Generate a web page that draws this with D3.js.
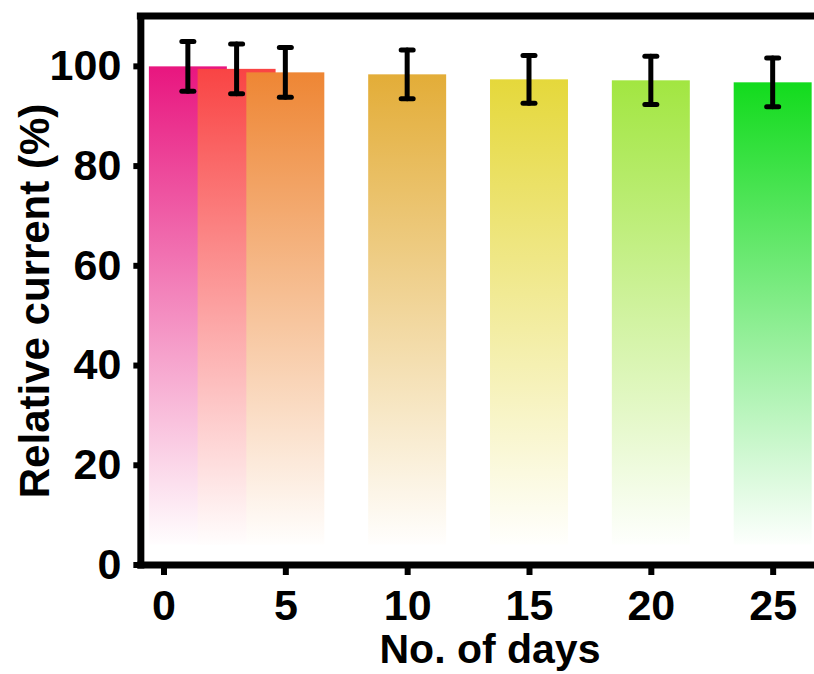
<!DOCTYPE html>
<html>
<head>
<meta charset="utf-8">
<script src="https://cdn.jsdelivr.net/npm/d3@7"></script>
<style>
	body { margin: 0; background: #fff; }
	text { font-family: Arial, "Liberation Sans", sans-serif; font-weight: bold; fill: #000; }
</style>
</head>
<body>
<svg id="chart"></svg>
<script>
// values
const days = [1, 3, 5, 10, 15, 20, 25];
const relCurrent = [99.9, 99.4, 98.7, 98.3, 97.3, 97.1, 96.7];
const errors = [5.0, 5.0, 5.0, 4.9, 4.8, 4.85, 4.9];
const barColors = ['#e8167f', '#f94444', '#ee8634', '#e3ad38', '#e5d83b', '#a2e641', '#12db1d'];
const xTicks = [0, 5, 10, 15, 20, 25];
const yTicks = [0, 20, 40, 60, 80, 100];

ChartScript = (function() {
	const W = 814, H = 674;
	const BAR_DAYS = 3.2;	// bar width in day units
	const BAR_BASE = 4;	// gradient fades out just above zero

	this.draw = function() {
		const svg = d3.select('#chart')
			.attr('width', W)
			.attr('height', H)
			.style('background-color', 'white');

		var x = d3.scaleLinear().domain([-0.95, 27]).range([140.35, 821.4]);
		var y = d3.scaleLinear().domain([0, 110]).range([564.5, 16]);

		// one vertical fade per bar, opaque so overlapping bars hide each other
		var defs = svg.append('defs');
		barColors.forEach((c, i) => {
			var g = defs.append('linearGradient')
				.attr('id', 'fade' + i)
				.attr('x1', 0).attr('y1', 0).attr('x2', 0).attr('y2', 1);
			g.append('stop').attr('offset', '0%').attr('stop-color', c);
			g.append('stop').attr('offset', '100%').attr('stop-color', d3.interpolateRgb(c, '#fff')(0.99));
		});

		var data = days.map((d, i) => ({ day: d, v: relCurrent[i], e: errors[i], i: i }));

		svg.append('g').selectAll('rect')
			.data(data)
			.join('rect')
			.attr('x', d => x(d.day - BAR_DAYS / 2))
			.attr('width', x(BAR_DAYS) - x(0))
			.attr('y', d => y(d.v))
			.attr('height', d => y(BAR_BASE) - y(d.v))
			.attr('fill', d => 'url(#fade' + d.i + ')');

		// error bars
		var eb = svg.append('g')
			.attr('stroke', '#000')
			.attr('stroke-width', 5)
			.attr('stroke-linecap', 'round');
		eb.selectAll('line.stem')
			.data(data)
			.join('line')
			.attr('class', 'stem')
			.attr('x1', d => x(d.day)).attr('x2', d => x(d.day))
			.attr('y1', d => y(d.v + d.e)).attr('y2', d => y(d.v - d.e));
		[1, -1].forEach(s => {
			eb.selectAll('line.cap' + s)
				.data(data)
				.join('line')
				.attr('class', 'cap' + s)
				.attr('x1', d => x(d.day) - 6).attr('x2', d => x(d.day) + 6)
				.attr('y1', d => y(d.v + s * d.e)).attr('y2', d => y(d.v + s * d.e));
		});

		// top frame line
		svg.append('line')
			.attr('x1', x(-0.95) - 3.5).attr('x2', W + 10)
			.attr('y1', y(110)).attr('y2', y(110))
			.attr('stroke', '#000').attr('stroke-width', 7);

		var yAxis = svg.append('g')
			.attr('transform', 'translate(' + x(-0.95) + ',0)')
			.call(d3.axisLeft(y).tickValues(yTicks).tickSize(7).tickPadding(12).tickSizeOuter(0));
		var xAxis = svg.append('g')
			.attr('transform', 'translate(0,' + y(0) + ')')
			.call(d3.axisBottom(x).tickValues(xTicks).tickSize(10.5).tickPadding(14).tickSizeOuter(0));

		[yAxis, xAxis].forEach(a => {
			a.select('.domain').attr('stroke-width', 7).attr('stroke-linecap', 'square');
			a.selectAll('.tick line').attr('stroke-width', 6);
			a.selectAll('.tick text')
				.style('font-size', '43px')
				.style('font-weight', 'bold')
				.attr('fill', '#000');
		});

		svg.append('text')
			.attr('transform', 'translate(49,301) rotate(-90)')
			.attr('text-anchor', 'middle')
			.style('font-size', '42px')
			.text('Relative current (%)');
		svg.append('text')
			.attr('x', 490)
			.attr('y', 663)
			.attr('text-anchor', 'middle')
			.style('font-size', '41px')
			.text('No. of days');
	};

	return {
		draw: function() {
			return draw();
		}
	};
})();

ChartScript.draw();
</script>
</body>
</html>
